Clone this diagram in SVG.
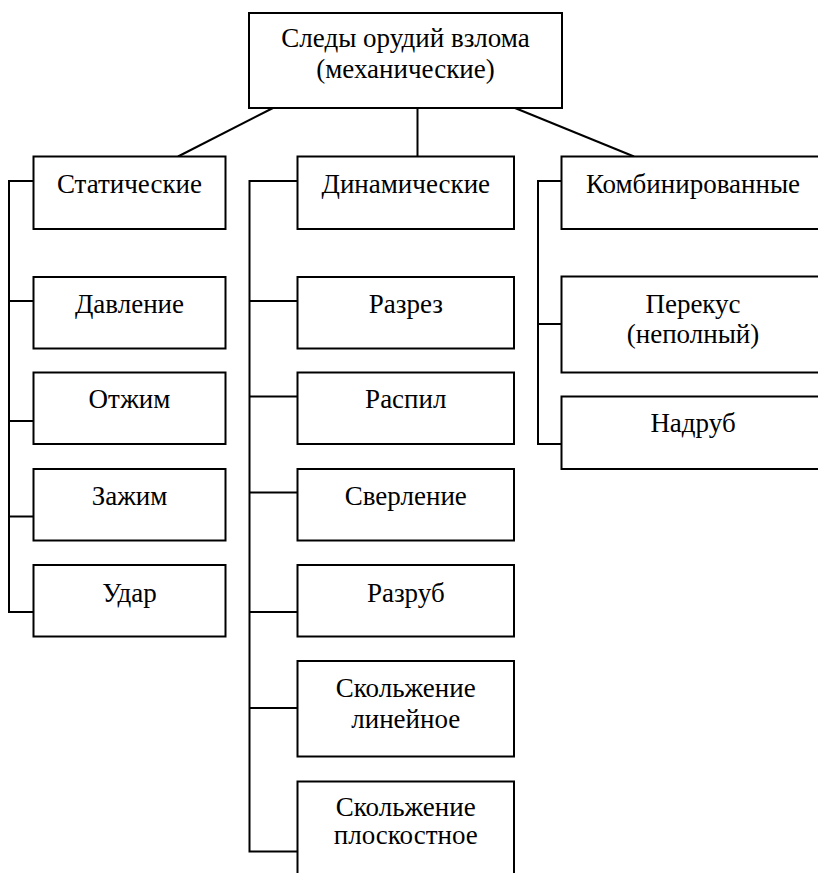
<svg xmlns="http://www.w3.org/2000/svg" width="818" height="873" viewBox="0 0 818 873">
<style>
rect{fill:#fff;stroke:#000;stroke-width:2}
.c{fill:none;stroke:#000;stroke-width:2}
text{font-size:27px;fill:#000;text-anchor:middle}
</style>
<rect x="0" y="0" width="818" height="873" style="stroke:none"/>
<g id="connectors">
<line class="c" x1="273" y1="108" x2="178" y2="156.5"/>
<line class="c" x1="417.5" y1="108" x2="417.5" y2="156.5"/>
<line class="c" x1="515" y1="108" x2="634" y2="156.5"/>
<polyline class="c" points="33.5,181 9,181 9,612 33.5,612"/>
<line class="c" x1="9" y1="301" x2="33.5" y2="301"/>
<line class="c" x1="9" y1="421" x2="33.5" y2="421"/>
<line class="c" x1="9" y1="516.5" x2="33.5" y2="516.5"/>
<polyline class="c" points="297.5,181 249.5,181 249.5,851.5 297.5,851.5"/>
<line class="c" x1="249.5" y1="301" x2="297.5" y2="301"/>
<line class="c" x1="249.5" y1="396.5" x2="297.5" y2="396.5"/>
<line class="c" x1="249.5" y1="492.5" x2="297.5" y2="492.5"/>
<line class="c" x1="249.5" y1="612" x2="297.5" y2="612"/>
<line class="c" x1="249.5" y1="708" x2="297.5" y2="708"/>
<polyline class="c" points="561.5,181 538,181 538,444 561.5,444"/>
<line class="c" x1="538" y1="324" x2="561.5" y2="324"/>
</g>
<g font-family="'Liberation Serif', 'Times New Roman', serif">
<g id="root"><rect x="249" y="13" width="313" height="95"/><text x="405.5" y="47">Следы орудий взлома</text><text x="405.5" y="78">(механические)</text></g>
<g id="static"><rect x="33.5" y="156.5" width="192" height="72.5"/><text x="129.5" y="193">Статические</text></g>
<g id="dynamic"><rect x="297.5" y="156.5" width="216.5" height="72.5"/><text x="405.8" y="193">Динамические</text></g>
<g id="combined"><rect x="561.5" y="156.5" width="263" height="72.5"/><text x="693" y="193">Комбинированные</text></g>
<g id="davlenie"><rect x="33.5" y="277" width="192" height="71.5"/><text x="129.5" y="313">Давление</text></g>
<g id="otzhim"><rect x="33.5" y="372.5" width="192" height="71.5"/><text x="129.5" y="408">Отжим</text></g>
<g id="zazhim"><rect x="33.5" y="469" width="192" height="71.5"/><text x="129.5" y="505">Зажим</text></g>
<g id="udar"><rect x="33.5" y="565" width="192" height="71.5"/><text x="129.5" y="601.5">Удар</text></g>
<g id="razrez"><rect x="297.5" y="277" width="216.5" height="71.5"/><text x="405.8" y="313">Разрез</text></g>
<g id="raspil"><rect x="297.5" y="372.5" width="216.5" height="71.5"/><text x="405.8" y="408">Распил</text></g>
<g id="sverlenie"><rect x="297.5" y="469" width="216.5" height="71.5"/><text x="405.8" y="505">Сверление</text></g>
<g id="razrub"><rect x="297.5" y="565" width="216.5" height="71.5"/><text x="405.8" y="601.5">Разруб</text></g>
<g id="skolzh-lin"><rect x="297.5" y="661" width="216.5" height="95.5"/><text x="405.8" y="697">Скольжение</text><text x="405.8" y="727.5">линейное</text></g>
<g id="skolzh-plosk"><rect x="297.5" y="781.5" width="216.5" height="100"/><text x="405.8" y="816">Скольжение</text><text x="405.8" y="843.5">плоскостное</text></g>
<g id="perekus"><rect x="561.5" y="276.5" width="263" height="96"/><text x="693" y="313">Перекус</text><text x="693" y="343">(неполный)</text></g>
<g id="nadrub"><rect x="561.5" y="396.5" width="263" height="72.5"/><text x="693" y="432">Надруб</text></g>
</g>
</svg>
